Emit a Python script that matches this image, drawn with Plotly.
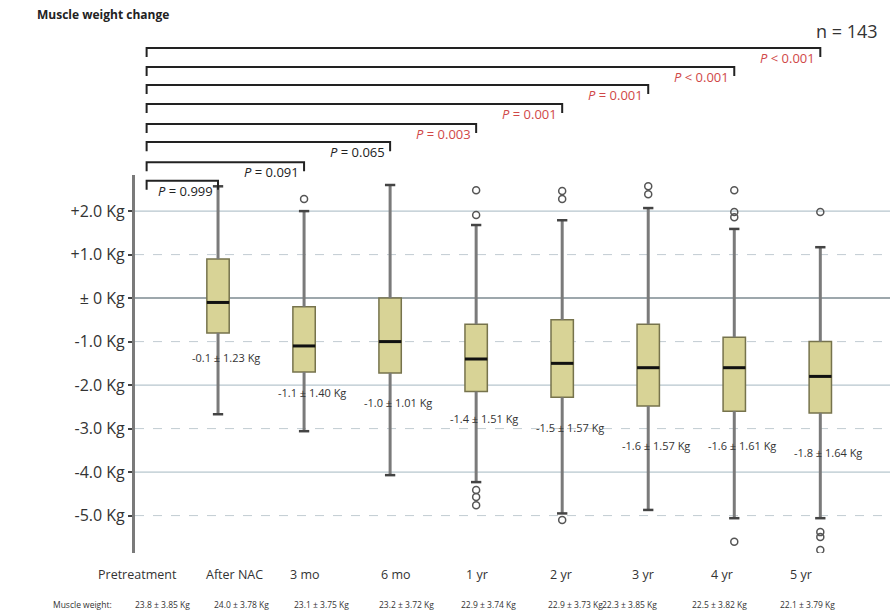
import plotly.graph_objects as go

# ---------------- data ----------------
categories = ["Pretreatment", "After NAC", "3 mo", "6 mo", "1 yr", "2 yr", "3 yr", "4 yr", "5 yr"]
box_pos = [1, 2, 3, 4, 5, 6, 7, 8]          # After NAC ... 5 yr
q1 = [-0.8, -1.7, -1.72, -2.15, -2.28, -2.48, -2.6, -2.64]
median = [-0.1, -1.1, -1.0, -1.4, -1.5, -1.6, -1.6, -1.8]
q3 = [0.9, -0.2, 0.0, -0.6, -0.5, -0.6, -0.9, -1.0]
lower_whisker = [-2.67, -3.06, -4.07, -4.23, -4.95, -4.87, -5.06, -5.06]
upper_whisker = [2.57, 2.0, 2.6, 1.68, 1.79, 2.07, 1.59, 1.17]

outlier_pos = [2, 4, 4, 4, 4, 4, 5, 5, 5, 6, 6, 7, 7, 7, 7, 8, 8, 8, 8]
outlier_val = [2.28, 2.48, 1.91, -4.41, -4.57, -4.76, 2.46, 2.28, -5.1,
               2.57, 2.39, 2.48, 1.98, 1.86, -5.6, 1.98, -5.38, -5.49, -5.79]

mean_change = ["-0.1", "-1.1", "-1.0", "-1.4", "-1.5", "-1.6", "-1.6", "-1.8"]
sd_change = ["1.23", "1.40", "1.01", "1.51", "1.57", "1.57", "1.61", "1.64"]

muscle_mean = ["23.8", "24.0", "23.1", "23.2", "22.9", "22.9", "22.3", "22.5", "22.1"]
muscle_sd = ["3.85", "3.78", "3.75", "3.72", "3.74", "3.73", "3.85", "3.82", "3.79"]

p_values = ["= 0.999", "= 0.091", "= 0.065", "= 0.003", "= 0.001", "= 0.001", "< 0.001", "< 0.001"]
p_significant = [False, False, False, True, True, True, True, True]

ytick_vals = [2, 1, 0, -1, -2, -3, -4, -5]
ytick_text = ["+2.0 Kg", "+1.0 Kg", "\u00b1 0 Kg", "-1.0 Kg", "-2.0 Kg", "-3.0 Kg", "-4.0 Kg", "-5.0 Kg"]

# ---------------- layout constants ----------------
FONT = "'Open Sans', Lato, sans-serif"
TXT = "#333333"
box_half = 0.13
cap_half = 0.06
xlabel_x = [0.06, 1.19, 2.01, 3.07, 4.01, 4.99, 5.94, 6.86, 7.78]
weight_x_px = [133, 212, 292, 377, 488, 575, 659, 749, 837]
stat_label_y = [-1.36, -2.18, -2.39, -2.76, -2.97, -3.38, -3.38, -3.54]
bracket_start = 0.17
bracket_y = [0.985, 1.034, 1.087, 1.135, 1.188, 1.238, 1.286, 1.336]
bracket_drop = 0.024

fig = go.Figure()

# whiskers
wx, wy = [], []
for p, lo, a, b, hi in zip(box_pos, lower_whisker, q1, q3, upper_whisker):
    wx += [p, p, None, p, p, None]
    wy += [lo, a, None, b, hi, None]
fig.add_trace(go.Scatter(x=wx, y=wy, mode="lines", line=dict(color="#7a7a7a", width=3),
                         hoverinfo="skip", showlegend=False))
# whisker caps
cx, cy = [], []
for p, lo, hi in zip(box_pos, lower_whisker, upper_whisker):
    cx += [p - cap_half, p + cap_half, None, p - cap_half, p + cap_half, None]
    cy += [lo, lo, None, hi, hi, None]
fig.add_trace(go.Scatter(x=cx, y=cy, mode="lines", line=dict(color="#444444", width=2.5),
                         hoverinfo="skip", showlegend=False))

# boxes
fig.add_trace(go.Box(x=box_pos, q1=q1, median=median, q3=q3,
                     lowerfence=q1, upperfence=q3, width=2 * box_half,
                     fillcolor="#d8d396", line=dict(color="#76734c", width=1.5),
                     boxpoints=False, showlegend=False))
# medians
mx, my = [], []
for p, m in zip(box_pos, median):
    mx += [p - box_half, p + box_half, None]
    my += [m, m, None]
fig.add_trace(go.Scatter(x=mx, y=my, mode="lines", line=dict(color="#111111", width=3),
                         hoverinfo="skip", showlegend=False))
# outliers
fig.add_trace(go.Scatter(x=outlier_pos, y=outlier_val, mode="markers",
                         marker=dict(symbol="circle-open", size=7, color="#555555",
                                     line=dict(width=1.5)),
                         showlegend=False))

# horizontal grid lines
shapes = []
for v in ytick_vals:
    if v == 0:
        style = dict(color="#7d8a90", width=1.5)
    elif v % 2 == 0:
        style = dict(color="#a4b8c2", width=1)
    else:
        style = dict(color="#c2ccd2", width=1, dash="dash")
    shapes.append(dict(type="line", xref="paper", x0=0, x1=1, yref="y", y0=v, y1=v,
                       line=style, layer="below"))

# comparison brackets
annotations = []
for i, (p, yb, pv, sig) in enumerate(zip(box_pos, bracket_y, p_values, p_significant)):
    shapes.append(dict(type="path", xref="x", yref="paper",
                       path=f"M {bracket_start} {yb - bracket_drop} L {bracket_start} {yb} "
                            f"L {p} {yb} L {p} {yb - bracket_drop}",
                       line=dict(color="#222222", width=2)))
    annotations.append(dict(x=p, y=yb, xref="x", yref="paper", xanchor="right", yanchor="top",
                            xshift=-3, yshift=1, showarrow=False,
                            text=f"<i>P</i> {pv}",
                            font=dict(family=FONT, size=13, color="#d04848" if sig else "#222222")))

# mean ± SD labels
for p, m, s, ly in zip(box_pos, mean_change, sd_change, stat_label_y):
    annotations.append(dict(x=p, y=ly, xref="x", yref="y", xshift=8, showarrow=False,
                            text=f"{m} \u00b1 {s} Kg",
                            font=dict(family=FONT, size=11, color=TXT)))

# category labels
for xv, c in zip(xlabel_x, categories):
    annotations.append(dict(x=xv, y=0, xref="x", yref="paper", yanchor="middle", yshift=-21,
                            showarrow=False, text=c, font=dict(family=FONT, size=12.5, color=TXT)))

# muscle weight row
annotations.append(dict(x=(51 - 135) / 755, y=0, xref="paper", yref="paper", yanchor="middle",
                        yshift=-51, showarrow=False, text="Muscle weight:",
                        font=dict(family=FONT, size=8.5, color=TXT)))
for px, m, s in zip(weight_x_px, muscle_mean, muscle_sd):
    annotations.append(dict(x=(px - 135) / 755, y=0, xref="paper", yref="paper", yanchor="middle",
                            yshift=-51, showarrow=False, text=f"{m} \u00b1 {s} Kg",
                            font=dict(family=FONT, size=8.5, color=TXT)))

# title and n
annotations.append(dict(x=(35 - 135) / 755, y=1, xref="paper", yref="paper", xanchor="left",
                        yanchor="middle", yshift=175 - 14, showarrow=False,
                        text="<b>Muscle weight change</b>",
                        font=dict(family=FONT, size=12, color="#222222")))
annotations.append(dict(x=(880 - 135) / 755, y=1, xref="paper", yref="paper", xanchor="right",
                        yanchor="middle", yshift=175 - 31, showarrow=False, text="n = 143",
                        font=dict(family=FONT, size=18, color=TXT)))

fig.update_layout(
    width=890, height=615, autosize=False,
    margin=dict(l=135, r=0, t=175, b=62, pad=0),
    plot_bgcolor="white", paper_bgcolor="white",
    shapes=shapes, annotations=annotations,
    xaxis=dict(range=[0.035, 8.81], showgrid=False, zeroline=False, showticklabels=False,
               showline=False, ticks=""),
    yaxis=dict(range=[-5.86, 2.83], showgrid=False, zeroline=False,
               tickvals=ytick_vals, ticktext=ytick_text,
               showline=True, linecolor="#7a7a7a", linewidth=3,
               ticks="outside", ticklen=4, tickwidth=2, tickcolor="#444444",
               tickfont=dict(family=FONT, size=16, color=TXT)),
    font=dict(family=FONT),
)

fig.write_html("out.html", config={"displayModeBar": False},
               post_script="document.body.style.margin='0';document.body.style.overflow='hidden';")
